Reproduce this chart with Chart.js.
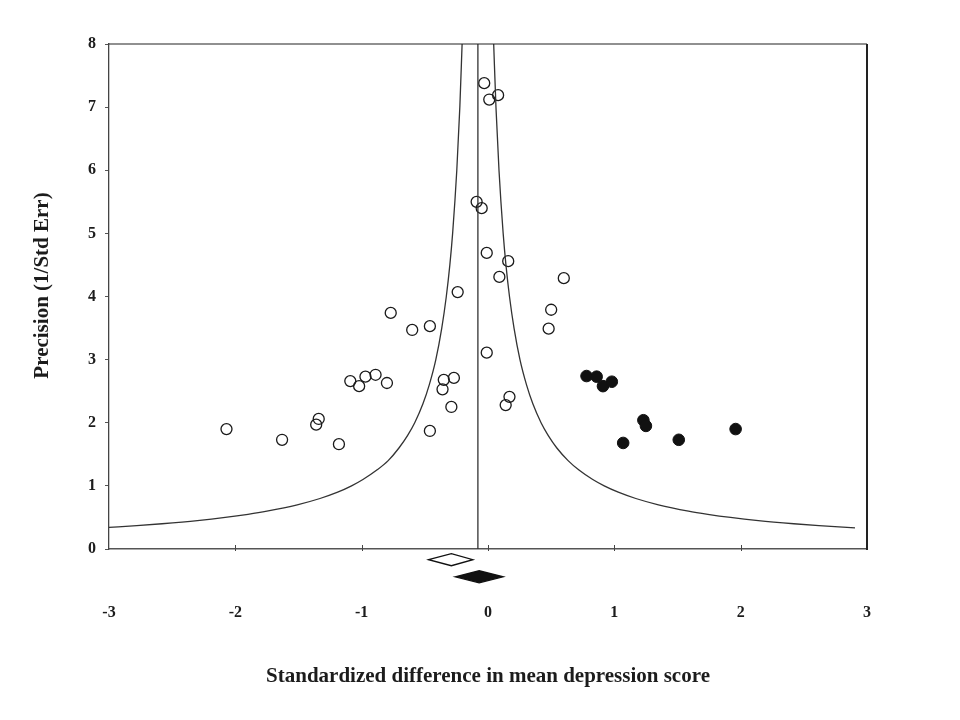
<!DOCTYPE html>
<html><head><meta charset="utf-8">
<script src="https://cdn.jsdelivr.net/npm/chart.js@4"></script>
<style>html,body{margin:0;padding:0;background:#fff}#wrap{width:960px;height:720px}</style>
</head><body><div id="wrap"><canvas id="c" width="960" height="720"></canvas></div>
<script>
// ---- data ----
const xTickLabels = ['-3', '-2', '-1', '0', '1', '2', '3'];
const yTickLabels = ['0', '1', '2', '3', '4', '5', '6', '7', '8'];
const xTitle = 'Standardized difference in mean depression score';
const yTitle = 'Precision (1/Std Err)';

// observed studies (open circles)
const observedX = [-0.03, 0.01, 0.08, -0.09, -0.05, -0.01, 0.16, 0.09, 0.60, -0.24,
  0.50, 0.48, -0.01, 0.17, 0.14, -0.77, -0.60, -0.46, -1.09, -1.02,
  -0.97, -0.89, -0.80, -0.35, -0.27, -0.36, -0.29, -0.46, -2.07, -1.63,
  -1.34, -1.36, -1.18];
const observedY = [7.38, 7.12, 7.19, 5.50, 5.40, 4.69, 4.56, 4.31, 4.29, 4.07,
  3.79, 3.49, 3.11, 2.41, 2.28, 3.74, 3.47, 3.53, 2.66, 2.58,
  2.73, 2.76, 2.63, 2.68, 2.71, 2.53, 2.25, 1.87, 1.90, 1.73,
  2.06, 1.97, 1.66];

// imputed studies (filled circles)
const imputedX = [0.78, 0.86, 0.91, 0.98, 1.23, 1.25, 1.07, 1.51, 1.96];
const imputedY = [2.74, 2.73, 2.58, 2.65, 2.04, 1.95, 1.68, 1.73, 1.90];

// funnel limits (left: bottom to top; right: top to bottom)
const funnelLeftP  = [0.342, 0.37, 0.4, 0.45, 0.5, 0.55, 0.6, 0.7, 0.8, 0.9, 1.0, 1.1, 1.25, 1.4, 1.6, 1.8, 2.0, 2.3, 2.6, 3.0, 3.5, 4, 4.5, 5, 6, 7, 8];
const funnelLeftX  = [-3.00, -2.78, -2.58, -2.30, -2.08, -1.90, -1.75, -1.51, -1.33, -1.19, -1.08, -0.99, -0.88, -0.79, -0.705, -0.636, -0.58, -0.515, -0.465, -0.413, -0.366, -0.33, -0.302, -0.28, -0.247, -0.223, -0.205];
const funnelRightP = [8, 7, 6, 5, 4.5, 4, 3.5, 3.0, 2.6, 2.3, 2.0, 1.8, 1.6, 1.4, 1.25, 1.1, 1.0, 0.9, 0.8, 0.7, 0.6, 0.55, 0.5, 0.45, 0.4, 0.37, 0.335];
const funnelRightX = [0.045, 0.063, 0.087, 0.12, 0.142, 0.17, 0.206, 0.253, 0.305, 0.355, 0.42, 0.476, 0.545, 0.634, 0.72, 0.829, 0.92, 1.031, 1.17, 1.349, 1.587, 1.74, 1.92, 2.14, 2.42, 2.62, 2.905];

// pooled effect (vertical line)
const pooledEffect = -0.08;
const pooledLineY = [0, 8];

// summary diamonds: observed, adjusted
const diamondEstimate = [-0.29, -0.07];
const diamondLower = [-0.47, -0.26];
const diamondUpper = [-0.12, 0.12];
const diamondRow = [-0.17, -0.44];

// ---- chart ----
const pts = (xs, ys) => xs.map((v, i) => ({x: v, y: ys[i]}));
const serif = '"Liberation Serif", "Times New Roman", serif';
const ink = '#1c1c1c';

const decor = {
  id: 'decor',
  afterDatasetsDraw(chart) {
    const {ctx, chartArea: a, scales: {x, y}} = chart;
    ctx.save();
    ctx.strokeStyle = '#222';
    ctx.lineWidth = 1.2;
    ctx.beginPath();
    ctx.moveTo(a.left, a.top); ctx.lineTo(a.right, a.top);
    ctx.stroke();
    ctx.lineWidth = 2;
    ctx.beginPath();
    ctx.moveTo(a.right, a.top); ctx.lineTo(a.right, a.bottom + 1);
    ctx.stroke();
    ctx.lineWidth = 1;
    ctx.strokeStyle = '#444';
    ctx.beginPath();
    x.ticks.forEach(t => {
      if (t.value > x.min && t.value < x.max) {
        const px = Math.round(x.getPixelForValue(t.value)) + 0.5;
        ctx.moveTo(px, a.bottom + 2); ctx.lineTo(px, a.bottom - 4);
      }
    });
    ctx.stroke();
    const fills = ['#ffffff', '#111111'];
    ctx.strokeStyle = '#111';
    ctx.lineWidth = 1.3;
    diamondEstimate.forEach((e, i) => {
      const cy = y.getPixelForValue(diamondRow[i]);
      const l = x.getPixelForValue(diamondLower[i]);
      const r = x.getPixelForValue(diamondUpper[i]);
      const c = x.getPixelForValue(e);
      ctx.beginPath();
      ctx.moveTo(l, cy); ctx.lineTo(c, cy - 6); ctx.lineTo(r, cy); ctx.lineTo(c, cy + 6);
      ctx.closePath();
      ctx.fillStyle = fills[i];
      ctx.fill();
      ctx.stroke();
    });
    // y axis title
    ctx.save();
    ctx.translate(43, (a.top + a.bottom) / 2 - 11);
    ctx.rotate(-Math.PI / 2);
    ctx.fillStyle = ink;
    ctx.font = 'bold 21px ' + serif;
    ctx.textAlign = 'center';
    ctx.textBaseline = 'middle';
    ctx.fillText(yTitle, 0, 0);
    ctx.restore();
    ctx.restore();
  }
};

new Chart(document.getElementById('c'), {
  type: 'scatter',
  data: {
    datasets: [
      {label: 'funnel left', data: pts(funnelLeftX, funnelLeftP), showLine: true, borderColor: '#333', borderWidth: 1.3, pointRadius: 0, cubicInterpolationMode: 'monotone', fill: false},
      {label: 'funnel right', data: pts(funnelRightX, funnelRightP), showLine: true, borderColor: '#333', borderWidth: 1.3, pointRadius: 0, cubicInterpolationMode: 'monotone', fill: false},
      {label: 'pooled', data: pooledLineY.map(v => ({x: pooledEffect, y: v})), showLine: true, borderColor: '#333', borderWidth: 1.3, pointRadius: 0, fill: false},
      {label: 'observed', data: pts(observedX, observedY), pointRadius: 5.5, pointBackgroundColor: 'rgba(255,255,255,0)', pointBorderColor: '#1a1a1a', pointBorderWidth: 1.3},
      {label: 'imputed', data: pts(imputedX, imputedY), pointRadius: 5.8, pointBackgroundColor: '#111', pointBorderColor: '#111', pointBorderWidth: 1}
    ]
  },
  options: {
    responsive: false,
    animation: false,
    devicePixelRatio: 1,
    layout: {padding: {top: 44, right: 93, left: 0, bottom: 0}},
    plugins: {legend: {display: false}, tooltip: {enabled: false}},
    scales: {
      x: {
        type: 'linear', min: -3, max: 3,
        afterFit(s) { s.height = 171; },
        ticks: {stepSize: 1, padding: 54, color: ink, font: {family: serif, size: 16, weight: 'bold'},
          callback: (v) => xTickLabels[Math.round(v) + 3]},
        grid: {display: false, drawTicks: false},
        border: {display: true, color: '#555', width: 1.5},
        title: {display: true, text: xTitle, color: ink, font: {family: serif, size: 21, weight: 'bold'}, padding: {top: 0, bottom: 31}}
      },
      y: {
        type: 'linear', min: 0, max: 8,
        afterFit(s) { s.width = 109; },
        ticks: {stepSize: 1, padding: 9, color: ink, font: {family: serif, size: 16, weight: 'bold'},
          callback: (v) => yTickLabels[Math.round(v)]},
        grid: {display: true, drawOnChartArea: false, drawTicks: true, tickLength: 4, color: '#555'},
        border: {display: true, color: '#444', width: 1.3},
        title: {display: false}
      }
    }
  },
  plugins: [decor]
});
</script>
</body></html>
